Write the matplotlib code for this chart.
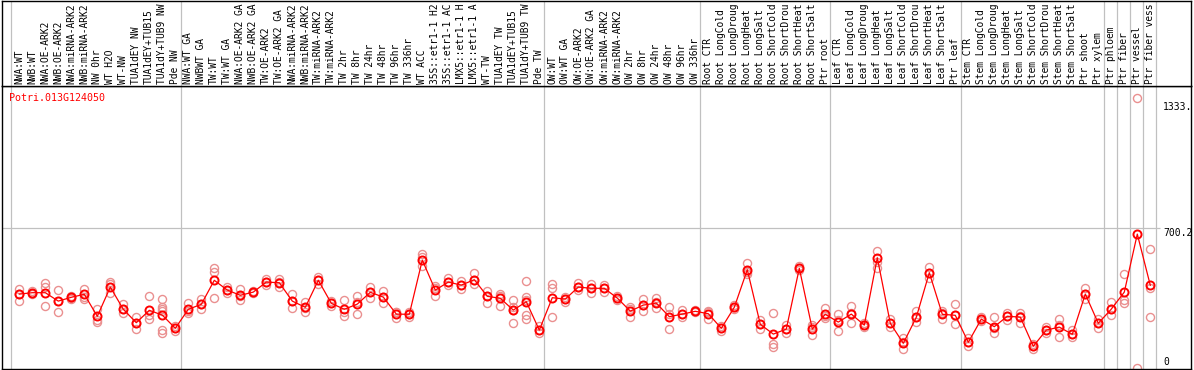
import matplotlib
matplotlib.use("Agg")
import matplotlib.pyplot as plt
import numpy as np

gene = "Potri.013G124050"

# sample names as they show in the header (cut to the header height)
samples = [
    "NWA:WT", "NWB:WT", "NWA:OE-ARK2", "NWB:OE-ARK2", "NWA:miRNA-ARK2",
    "NWB:miRNA-ARK2", "NW 0hr", "WT H2O", "WT-NW", "TUA1dEY NW",
    "TUA1dEY+TUB15", "TUA1dY+TUB9 NW", "Pde NW",
    "NWA:WT GA", "NWBWT GA", "TW:WT", "TW:WT GA", "NWA:OE-ARK2 GA",
    "NWB:OE-ARK2 GA", "TW:OE-ARK2", "TW:OE-ARK2 GA", "NWA:miRNA-ARK2",
    "NWB:miRNA-ARK2", "TW:miRNA-ARK2", "TW:miRNA-ARK2", "TW 2hr",
    "TW 8hr", "TW 24hr", "TW 48hr", "TW 96hr", "TW 336hr", "WT ACC",
    "35S::etr1-1 H2", "35S::etr1-1 AC", "LMX5::etr1-1 H",
    "LMX5::etr1-1 A", "WT-TW", "TUA1dEY TW", "TUA1dEY+TUB15",
    "TUA1dY+TUB9 TW", "Pde TW",
    "OW:WT", "OW:WT GA", "OW:OE-ARK2", "OW:OE-ARK2 GA", "OW:miRNA-ARK2",
    "OW:miRNA-ARK2", "OW 2hr", "OW 8hr", "OW 24hr", "OW 48hr", "OW 96hr",
    "OW 336hr",
    "Root CTR", "Root LongCold", "Root LongDroug", "Root LongHeat",
    "Root LongSalt", "Root ShortCold", "Root ShortDrou", "Root ShortHeat",
    "Root ShortSalt", "Ptr root",
    "Leaf CTR", "Leaf LongCold", "Leaf LongDroug", "Leaf LongHeat",
    "Leaf LongSalt", "Leaf ShortCold", "Leaf ShortDrou", "Leaf ShortHeat",
    "Leaf ShortSalt", "Ptr leaf",
    "Stem CTR", "Stem LongCold", "Stem LongDroug", "Stem LongHeat",
    "Stem LongSalt", "Stem ShortCold", "Stem ShortDrou", "Stem ShortHeat",
    "Stem ShortSalt", "Ptr shoot", "Ptr xylem",
    "Ptr phloem", "Ptr fiber", "Ptr vessel", "Ptr fiber vess",
]

means = [
    371, 378, 378, 336, 355, 370, 260, 406, 295, 228, 290, 266, 200,
    295, 320, 440, 391, 365, 381, 431, 428, 336, 305,
    440, 325, 295, 321, 380, 356, 271, 270, 541, 391,
    431, 416, 443, 360, 350, 291, 333, 191,
    353, 346, 406, 400, 400, 351, 286, 316, 326, 258, 271, 285,
    273, 200, 305, 493, 220, 171, 196, 500, 196, 270,
    231, 271, 216, 553, 225, 125, 255, 478, 270, 265,
    130, 246, 208, 260, 256, 110, 191, 206, 170, 371,
    225, 296, 381, 671, 415,
]

replicates = [
    [396, 370, 338], [385, 378, 372], [425, 408, 311], [391, 338, 280],
    [362, 353, 345], [395, 358, 345], [295, 241, 230], [430, 420, 375],
    [321, 295, 275], [258, 228, 195], [361, 266, 248],
    [346, 306, 296, 285, 191, 175], [212, 200, 188],
    [325, 288, 275], [346, 320, 295], [503, 483, 353], [408, 391, 378],
    [395, 360, 341], [388, 380, 376], [448, 431, 416], [445, 430, 408],
    [371, 338, 300], [333, 300, 283], [455, 442, 421], [338, 325, 312],
    [341, 280, 263], [361, 332, 271], [408, 382, 350], [388, 356, 325],
    [283, 280, 251], [283, 270, 258], [570, 558, 512], [411, 400, 362],
    [450, 430, 416], [438, 416, 396], [475, 440, 421], [388, 362, 328],
    [371, 360, 313], [341, 306, 291, 225], [436, 358, 341, 266, 245],
    [211, 191, 178],
    [420, 403, 255], [358, 346, 333], [425, 405, 391], [421, 400, 378],
    [416, 400, 383], [360, 352, 343], [305, 296, 258], [346, 316, 286],
    [350, 330, 300], [305, 270, 196], [291, 271, 258], [290, 285, 280],
    [288, 283, 248], [211, 200, 188], [316, 305, 295], [525, 480, 474],
    [241, 222, 195], [275, 121, 108], [216, 196, 178], [510, 500, 490],
    [216, 206, 166], [300, 260, 250],
    [270, 240, 185], [311, 278, 225], [225, 216, 208], [586, 533, 503],
    [245, 225, 205], [150, 130, 95], [288, 255, 233], [508, 478, 450],
    [288, 275, 246], [321, 265, 221],
    [150, 130, 111], [255, 247, 236], [255, 200, 175], [278, 260, 241],
    [278, 262, 228], [121, 110, 95], [208, 191, 178], [245, 215, 158],
    [191, 170, 158], [403, 372, 345], [246, 228, 200],
    [330, 296, 266], [471, 341, 328], [1350, 0], [595, 400, 255],
]

# last sample index of each group (separators drawn just after)
group_ends = [-1, 12, 40, 52, 62, 72, 83, 84, 85, 86, 87]
ref_line = 700.2
axis_labels = [("1333.", 1306), ("700.2", 678), ("0", 31)]

W, H = 1194, 370
fig = plt.figure(figsize=(W / 100, H / 100), dpi=100)
mono = "DejaVu Sans Mono"

# pixel geometry
x_left, x_right = 1.5, 1190.5
x0, dx = 19.3, 13.0
head_bottom = 85.5
xlim = ((x_left - x0) / dx, (x_right - x0) / dx)

ax = fig.add_axes([x_left / W, (H - 369) / H, (x_right - x_left) / W,
                   (369 - head_bottom) / H])
hx = fig.add_axes([x_left / W, (H - head_bottom) / H, (x_right - x_left) / W,
                   (head_bottom - 0.5) / H])

ax.set_xlim(*xlim)
ax.set_ylim((368.3 - 369) * 5, (368.3 - head_bottom) * 5)
hx.set_xlim(*xlim)
hx.set_ylim(head_bottom, 0.5)

for a in (ax, hx):
    a.set_xticks([])
    a.set_yticks([])
    for s in a.spines.values():
        s.set_color("black")
        s.set_linewidth(1.0)

gray = "#c0c0c0"
for g in group_ends:
    for a in (ax, hx):
        a.axvline(g + 0.4 if g >= 0 else -0.65, color=gray, lw=0.9, zorder=1)

ax.hlines(ref_line, xlim[0], (1160 - x0) / dx, color=gray, lw=0.9, zorder=1)

x = np.arange(len(samples))

# replicate points
rx = np.concatenate([np.full(len(r), i) for i, r in enumerate(replicates)])
ry = np.concatenate([np.array(r, dtype=float) for r in replicates])
ax.plot(rx, ry, "o", ms=5.8, mfc="none", mec="#ea9090", mew=1.0,
        ls="none", zorder=2, clip_on=False)

# mean line
ax.plot(x, means, "-", color="red", lw=0.9, zorder=3)
ax.plot(x, means, "o", ms=5.8, mfc="none", mec="red", mew=1.4,
        ls="none", zorder=4)

# header labels
for i, lab in enumerate(samples):
    hx.text(i, 83.5, lab, rotation=90, ha="center", va="bottom",
            family=mono, fontsize=6.9, color="black")

ax.text((9 - x0) / dx, (368.3 - 98) * 5, gene, color="red", family=mono,
        fontsize=7.2, ha="left", va="center")

for txt, yv in axis_labels:
    ax.text((1163 - x0) / dx, yv, txt, family=mono, fontsize=7,
            ha="left", va="center", color="black")

plt.savefig("out.png", dpi=100)
